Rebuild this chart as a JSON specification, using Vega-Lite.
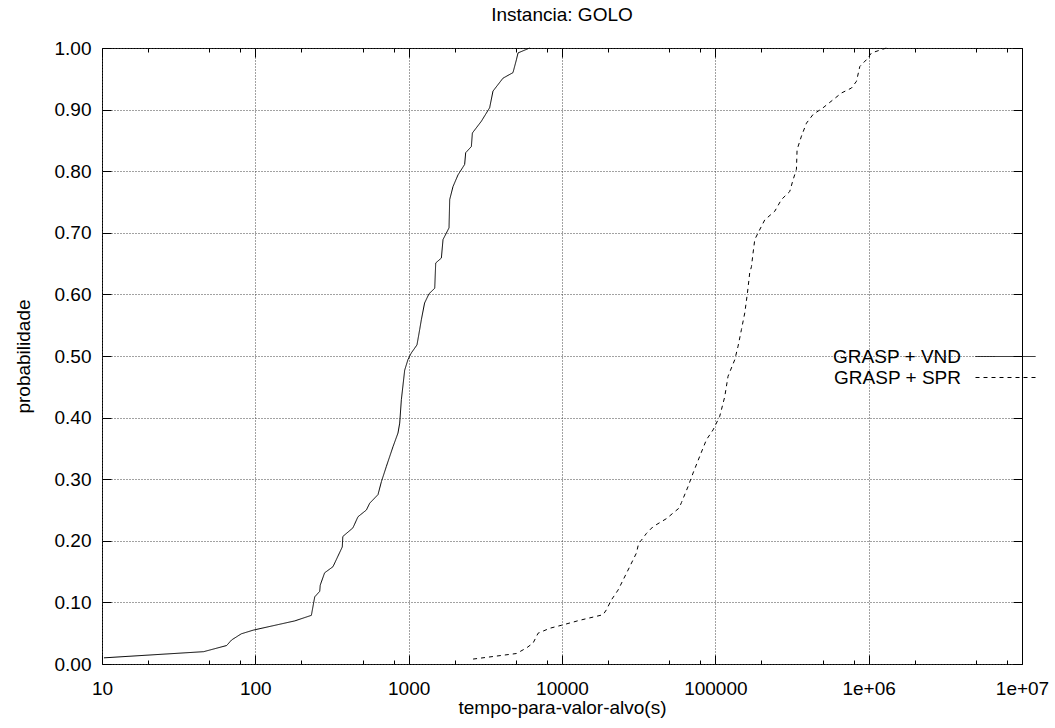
{
  "$schema": "https://vega.github.io/schema/vega-lite/v6.json",
  "width": 920,
  "height": 616,
  "autosize": {"type": "none"},
  "padding": {"left": 102, "top": 48, "right": 33, "bottom": 64},
  "background": "white",
  "title": {"text": "Instancia: GOLO", "fontSize": 19, "font": "Liberation Sans", "fontWeight": "normal", "color": "black", "offset": 14, "anchor": "middle"},
  "config": {
    "view": {"stroke": "black", "strokeWidth": 1},
    "font": "Liberation Sans",
    "axis": {"labelFont": "Liberation Sans", "titleFont": "Liberation Sans", "tickColor": "black", "labelColor": "black", "titleColor": "black", "domain": false}
  },
  "data": {
    "values": [
      {"t": 10.3, "p": 0.010, "s": "GRASP + VND"},
      {"t": 46, "p": 0.020, "s": "GRASP + VND"},
      {"t": 65, "p": 0.030, "s": "GRASP + VND"},
      {"t": 70, "p": 0.039, "s": "GRASP + VND"},
      {"t": 81, "p": 0.049, "s": "GRASP + VND"},
      {"t": 97, "p": 0.055, "s": "GRASP + VND"},
      {"t": 181, "p": 0.070, "s": "GRASP + VND"},
      {"t": 232, "p": 0.079, "s": "GRASP + VND"},
      {"t": 244, "p": 0.109, "s": "GRASP + VND"},
      {"t": 263, "p": 0.118, "s": "GRASP + VND"},
      {"t": 265, "p": 0.128, "s": "GRASP + VND"},
      {"t": 283, "p": 0.148, "s": "GRASP + VND"},
      {"t": 321, "p": 0.158, "s": "GRASP + VND"},
      {"t": 369, "p": 0.190, "s": "GRASP + VND"},
      {"t": 372, "p": 0.207, "s": "GRASP + VND"},
      {"t": 433, "p": 0.221, "s": "GRASP + VND"},
      {"t": 467, "p": 0.239, "s": "GRASP + VND"},
      {"t": 530, "p": 0.250, "s": "GRASP + VND"},
      {"t": 557, "p": 0.261, "s": "GRASP + VND"},
      {"t": 631, "p": 0.275, "s": "GRASP + VND"},
      {"t": 664, "p": 0.296, "s": "GRASP + VND"},
      {"t": 716, "p": 0.321, "s": "GRASP + VND"},
      {"t": 791, "p": 0.353, "s": "GRASP + VND"},
      {"t": 852, "p": 0.375, "s": "GRASP + VND"},
      {"t": 874, "p": 0.391, "s": "GRASP + VND"},
      {"t": 896, "p": 0.429, "s": "GRASP + VND"},
      {"t": 942, "p": 0.477, "s": "GRASP + VND"},
      {"t": 989, "p": 0.494, "s": "GRASP + VND"},
      {"t": 1041, "p": 0.505, "s": "GRASP + VND"},
      {"t": 1133, "p": 0.518, "s": "GRASP + VND"},
      {"t": 1180, "p": 0.543, "s": "GRASP + VND"},
      {"t": 1210, "p": 0.559, "s": "GRASP + VND"},
      {"t": 1270, "p": 0.586, "s": "GRASP + VND"},
      {"t": 1357, "p": 0.601, "s": "GRASP + VND"},
      {"t": 1479, "p": 0.610, "s": "GRASP + VND"},
      {"t": 1501, "p": 0.651, "s": "GRASP + VND"},
      {"t": 1634, "p": 0.659, "s": "GRASP + VND"},
      {"t": 1675, "p": 0.689, "s": "GRASP + VND"},
      {"t": 1833, "p": 0.708, "s": "GRASP + VND"},
      {"t": 1852, "p": 0.754, "s": "GRASP + VND"},
      {"t": 1946, "p": 0.775, "s": "GRASP + VND"},
      {"t": 2098, "p": 0.794, "s": "GRASP + VND"},
      {"t": 2318, "p": 0.811, "s": "GRASP + VND"},
      {"t": 2354, "p": 0.830, "s": "GRASP + VND"},
      {"t": 2564, "p": 0.840, "s": "GRASP + VND"},
      {"t": 2603, "p": 0.862, "s": "GRASP + VND"},
      {"t": 2977, "p": 0.881, "s": "GRASP + VND"},
      {"t": 3374, "p": 0.903, "s": "GRASP + VND"},
      {"t": 3547, "p": 0.930, "s": "GRASP + VND"},
      {"t": 4122, "p": 0.951, "s": "GRASP + VND"},
      {"t": 4790, "p": 0.960, "s": "GRASP + VND"},
      {"t": 5043, "p": 0.981, "s": "GRASP + VND"},
      {"t": 5167, "p": 0.992, "s": "GRASP + VND"},
      {"t": 6157, "p": 1.000, "s": "GRASP + VND"},
      {"t": 2631, "p": 0.008, "s": "GRASP + SPR"},
      {"t": 5043, "p": 0.017, "s": "GRASP + SPR"},
      {"t": 5865, "p": 0.026, "s": "GRASP + SPR"},
      {"t": 6477, "p": 0.034, "s": "GRASP + SPR"},
      {"t": 6985, "p": 0.050, "s": "GRASP + SPR"},
      {"t": 8320, "p": 0.058, "s": "GRASP + SPR"},
      {"t": 9960, "p": 0.063, "s": "GRASP + SPR"},
      {"t": 13060, "p": 0.071, "s": "GRASP + SPR"},
      {"t": 18530, "p": 0.080, "s": "GRASP + SPR"},
      {"t": 19480, "p": 0.088, "s": "GRASP + SPR"},
      {"t": 20990, "p": 0.104, "s": "GRASP + SPR"},
      {"t": 23200, "p": 0.120, "s": "GRASP + SPR"},
      {"t": 24990, "p": 0.136, "s": "GRASP + SPR"},
      {"t": 27650, "p": 0.158, "s": "GRASP + SPR"},
      {"t": 30560, "p": 0.180, "s": "GRASP + SPR"},
      {"t": 31620, "p": 0.196, "s": "GRASP + SPR"},
      {"t": 32940, "p": 0.201, "s": "GRASP + SPR"},
      {"t": 35540, "p": 0.212, "s": "GRASP + SPR"},
      {"t": 39270, "p": 0.223, "s": "GRASP + SPR"},
      {"t": 47990, "p": 0.236, "s": "GRASP + SPR"},
      {"t": 52970, "p": 0.245, "s": "GRASP + SPR"},
      {"t": 57980, "p": 0.253, "s": "GRASP + SPR"},
      {"t": 60100, "p": 0.262, "s": "GRASP + SPR"},
      {"t": 66370, "p": 0.288, "s": "GRASP + SPR"},
      {"t": 71590, "p": 0.310, "s": "GRASP + SPR"},
      {"t": 79070, "p": 0.337, "s": "GRASP + SPR"},
      {"t": 87450, "p": 0.364, "s": "GRASP + SPR"},
      {"t": 96640, "p": 0.380, "s": "GRASP + SPR"},
      {"t": 106800, "p": 0.402, "s": "GRASP + SPR"},
      {"t": 115200, "p": 0.434, "s": "GRASP + SPR"},
      {"t": 121000, "p": 0.467, "s": "GRASP + SPR"},
      {"t": 133900, "p": 0.494, "s": "GRASP + SPR"},
      {"t": 140700, "p": 0.516, "s": "GRASP + SPR"},
      {"t": 148000, "p": 0.543, "s": "GRASP + SPR"},
      {"t": 155600, "p": 0.570, "s": "GRASP + SPR"},
      {"t": 161900, "p": 0.602, "s": "GRASP + SPR"},
      {"t": 167600, "p": 0.635, "s": "GRASP + SPR"},
      {"t": 172000, "p": 0.645, "s": "GRASP + SPR"},
      {"t": 176200, "p": 0.667, "s": "GRASP + SPR"},
      {"t": 180800, "p": 0.689, "s": "GRASP + SPR"},
      {"t": 190100, "p": 0.700, "s": "GRASP + SPR"},
      {"t": 210100, "p": 0.721, "s": "GRASP + SPR"},
      {"t": 244100, "p": 0.735, "s": "GRASP + SPR"},
      {"t": 269900, "p": 0.754, "s": "GRASP + SPR"},
      {"t": 305700, "p": 0.767, "s": "GRASP + SPR"},
      {"t": 321300, "p": 0.786, "s": "GRASP + SPR"},
      {"t": 338000, "p": 0.803, "s": "GRASP + SPR"},
      {"t": 341300, "p": 0.835, "s": "GRASP + SPR"},
      {"t": 364500, "p": 0.857, "s": "GRASP + SPR"},
      {"t": 392900, "p": 0.878, "s": "GRASP + SPR"},
      {"t": 433600, "p": 0.892, "s": "GRASP + SPR"},
      {"t": 504200, "p": 0.903, "s": "GRASP + SPR"},
      {"t": 586200, "p": 0.916, "s": "GRASP + SPR"},
      {"t": 665000, "p": 0.927, "s": "GRASP + SPR"},
      {"t": 772600, "p": 0.935, "s": "GRASP + SPR"},
      {"t": 832900, "p": 0.946, "s": "GRASP + SPR"},
      {"t": 875500, "p": 0.970, "s": "GRASP + SPR"},
      {"t": 967600, "p": 0.981, "s": "GRASP + SPR"},
      {"t": 1043000, "p": 0.992, "s": "GRASP + SPR"},
      {"t": 1306000, "p": 1.000, "s": "GRASP + SPR"}
    ]
  },
  "layer": [
    {
      "mark": {"type": "line", "color": "black", "strokeWidth": 1},
      "encoding": {
        "x": {
          "field": "t", "type": "quantitative",
          "scale": {"type": "log", "domain": [10, 10000000], "nice": false},
          "axis": {
            "orient": "bottom",
            "values": [10, 20, 50, 80, 100, 200, 500, 800, 1000, 2000, 5000, 8000, 10000, 20000, 50000, 80000, 100000, 200000, 500000, 800000, 1000000, 2000000, 5000000, 8000000, 10000000],
            "labelExpr": "indexof([10,100,1000,10000,100000,1000000,10000000], datum.value) >= 0 ? (datum.value == 1000000 ? '1e+06' : (datum.value == 10000000 ? '1e+07' : format(datum.value, 'd'))) : ''",
            "tickSize": {"condition": {"test": "indexof([10,100,1000,10000,100000,1000000,10000000], datum.value) >= 0", "value": -9}, "value": -4},
            "grid": true,
            "gridDash": [1, 2],
            "gridColor": "#444444",
            "gridOpacity": {"condition": {"test": "indexof([10,100,1000,10000,100000,1000000,10000000], datum.value) >= 0", "value": 1}, "value": 0},
            "labelFontSize": 19,
            "labelPadding": 24,
            "labelFlush": false,
            "labelOverlap": false,
            "labelBound": false,
            "title": "tempo-para-valor-alvo(s)",
            "titleFontSize": 19,
            "titleFontWeight": "normal",
            "titlePadding": -5
          }
        },
        "y": {
          "field": "p", "type": "quantitative",
          "scale": {"domain": [0, 1], "nice": false},
          "axis": {
            "orient": "left",
            "values": [0, 0.1, 0.2, 0.3, 0.4, 0.5, 0.6, 0.7, 0.8, 0.9, 1.0],
            "format": ".2f",
            "tickSize": -9,
            "grid": true,
            "gridDash": [1, 2],
            "gridColor": "#444444",
            "labelFontSize": 19,
            "labelPadding": 20,
            "labelFlush": false,
            "labelOverlap": false,
            "title": "probabilidade",
            "titleFontSize": 19,
            "titleFontWeight": "normal",
            "titlePadding": 21
          }
        },
        "strokeDash": {
          "field": "s", "type": "nominal",
          "scale": {"domain": ["GRASP + VND", "GRASP + SPR"], "range": [[1, 0], [4, 4]]},
          "legend": {
            "title": null,
            "orient": "none",
            "legendX": 893,
            "legendY": 298,
            "symbolType": "M-3,0H3",
            "symbolSize": 400,
            "symbolStrokeWidth": 1,
            "symbolStrokeColor": "black",
            "symbolFillColor": "transparent",
            "symbolOpacity": 1,
            "labelAlign": "right",
            "labelOffset": -55,
            "labelFontSize": 19,
            "labelFont": "Liberation Sans",
            "labelColor": "black",
            "labelLimit": 0,
            "rowPadding": 0,
            "padding": 0,
            "fillColor": "white"
          }
        }
      }
    },
    {
      "mark": {"type": "line", "color": "black", "strokeOpacity": 0},
      "encoding": {
        "x": {
          "field": "t", "type": "quantitative",
          "axis": {
            "orient": "top",
            "values": [10, 20, 50, 80, 100, 200, 500, 800, 1000, 2000, 5000, 8000, 10000, 20000, 50000, 80000, 100000, 200000, 500000, 800000, 1000000, 2000000, 5000000, 8000000, 10000000],
            "tickSize": {"condition": {"test": "indexof([10,100,1000,10000,100000,1000000,10000000], datum.value) >= 0", "value": -9}, "value": -4},
            "labels": false,
            "grid": false,
            "title": null
          }
        },
        "y": {
          "field": "p", "type": "quantitative",
          "axis": {
            "orient": "right",
            "values": [0, 0.1, 0.2, 0.3, 0.4, 0.5, 0.6, 0.7, 0.8, 0.9, 1.0],
            "tickSize": -9,
            "labels": false,
            "grid": false,
            "domain": true,
            "domainColor": "black",
            "domainWidth": 1,
            "zindex": 2,
            "title": null
          }
        }
      }
    }
  ],
  "resolve": {"axis": {"x": "independent", "y": "independent"}}
}
